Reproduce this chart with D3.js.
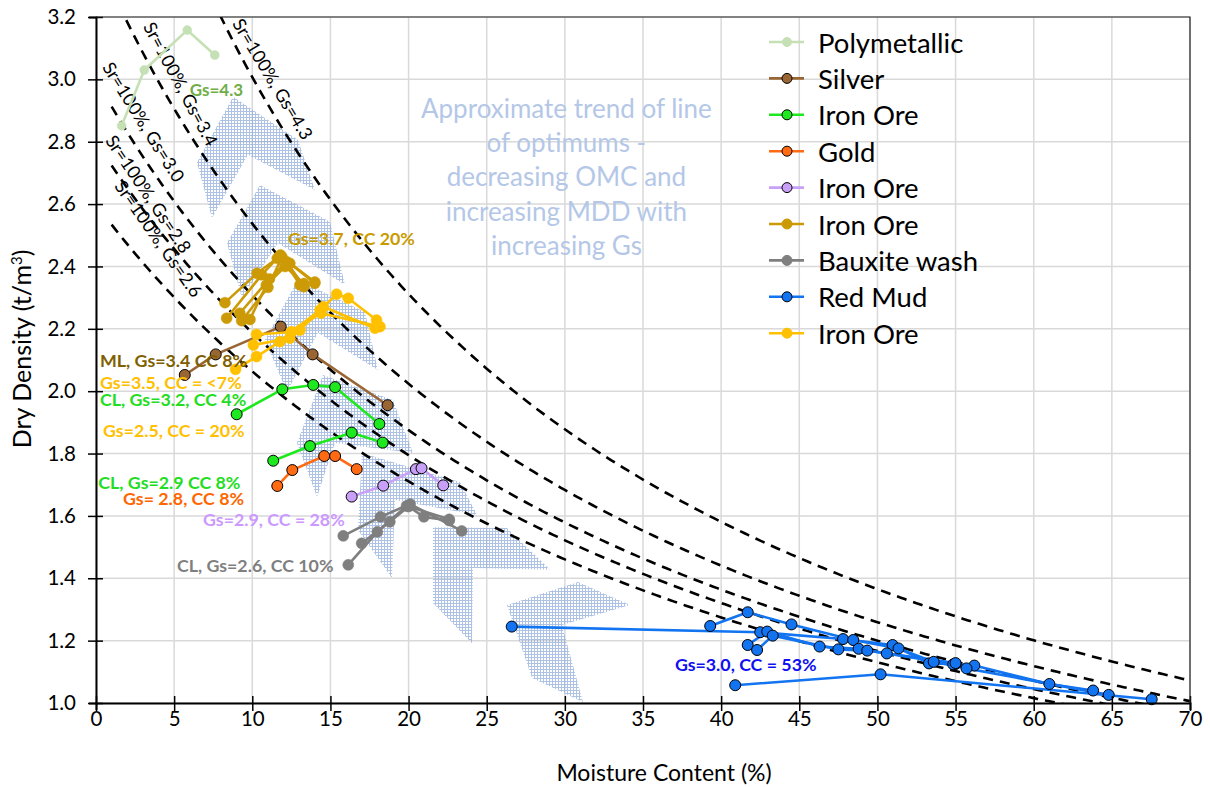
<!DOCTYPE html>
<html><head><meta charset="utf-8">
<script src="https://cdn.jsdelivr.net/npm/d3@7/dist/d3.min.js"></script>
<style>
body{margin:0;background:#fff}
svg{display:block}
text{font-family:Lato, "Open Sans", sans-serif}
</style>
</head><body>
<svg id="chart" width="1210" height="787"></svg>
<script>
// ---------------- DATA ----------------
const xTickValues = [0,5,10,15,20,25,30,35,40,45,50,55,60,65,70];
const yTickValues = [1.0,1.2,1.4,1.6,1.8,2.0,2.2,2.4,2.6,2.8,3.0,3.2];
const gsCurves = [4.3, 3.4, 3.0, 2.8, 2.6];

const polymetallic = [[[1.64,2.851],[3.09,3.030],[5.84,3.158],[7.6,3.078]]];
const silver = [[[5.68,2.052],[7.66,2.118],[11.82,2.207],[13.86,2.118],[18.66,1.955]]];
const ironOreGreen = [
  [[9.0,1.926],[11.92,2.006],[13.9,2.020],[15.3,2.013],[18.13,1.895]],
  [[11.34,1.777],[13.69,1.824],[16.36,1.867],[18.34,1.835]]
];
const gold = [[[11.6,1.696],[12.56,1.747],[14.6,1.792],[15.3,1.792],[16.68,1.750]]];
const ironOrePurple = [[[16.36,1.662],[18.38,1.697],[20.47,1.750],[20.83,1.753],[22.22,1.698]]];
const ironOreGold = [
  [[8.25,2.284],[10.3,2.378],[11.6,2.426],[12.4,2.41],[14.0,2.346]],
  [[8.36,2.234],[10.6,2.373],[11.8,2.437],[13.05,2.341]],
  [[9.2,2.250],[11.1,2.36],[12.2,2.415],[13.3,2.335]],
  [[9.32,2.226],[11.0,2.333],[11.9,2.43],[14.0,2.35]],
  [[9.85,2.230],[10.9,2.34],[12.1,2.40],[13.3,2.345]]
];
const bauxiteWash = [
  [[15.82,1.536],[18.2,1.597],[20.1,1.638],[23.4,1.552]],
  [[16.14,1.443],[18.0,1.549],[19.87,1.632],[22.6,1.589]],
  [[17.0,1.512],[18.8,1.581],[20.0,1.63],[20.98,1.597],[22.6,1.585]]
];
const redMud = [
  [[26.6,1.245],[42.5,1.227],[47.8,1.205],[50.97,1.186],[53.3,1.127],[55.0,1.125],[56.2,1.120],[61.0,1.061],[63.8,1.040]],
  [[39.3,1.247],[41.7,1.291],[44.5,1.252],[48.45,1.202],[51.35,1.175],[53.6,1.132],[55.7,1.111],[64.8,1.026]],
  [[41.7,1.186],[42.95,1.229],[46.3,1.181],[48.8,1.174],[50.6,1.159],[54.85,1.124]],
  [[42.3,1.170],[43.3,1.216],[47.5,1.172],[49.35,1.168],[55.0,1.128]],
  [[40.9,1.057],[50.2,1.092],[67.55,1.012]]
];
const ironOreYellow = [
  [[8.93,2.070],[10.27,2.111],[11.77,2.159],[12.5,2.19],[14.33,2.26],[15.4,2.311],[16.14,2.298],[17.95,2.228]],
  [[10.07,2.148],[12.4,2.170],[13.05,2.196],[14.55,2.271],[17.85,2.202]],
  [[10.27,2.182],[12.5,2.19],[14.4,2.25],[18.17,2.207]]
];

const seriesNames = ["Polymetallic","Silver","Iron Ore","Gold","Iron Ore","Iron Ore","Bauxite wash","Red Mud","Iron Ore"];
const seriesData = [polymetallic, silver, ironOreGreen, gold, ironOrePurple, ironOreGold, bauxiteWash, redMud, ironOreYellow];
const seriesColors = ["#c5e0b4","#996633","#1ee81e","#ff6a13","#c9a0f7","#cc9a06","#7f7f7f","#1274f0","#ffc000"];
const seriesOutline = [false,true,true,true,true,false,false,true,false];

// trend chevrons (annotation shapes, in data units)
const chevrons = [
  [[8.77,2.944],[12.92,2.806],[14.01,2.645],[9.72,2.758],[7.42,2.555],[6.46,2.733]],
  [[10.49,2.661],[14.97,2.543],[15.93,2.341],[11.64,2.475],[9.34,2.299],[8.38,2.475]],
  [[12.92,2.357],[17.21,2.254],[18.04,2.068],[14.20,2.187],[12.22,1.997],[10.81,2.164]],
  [[14.52,2.052],[19.00,1.972],[20.28,1.802],[15.29,1.834],[14.14,1.661],[12.86,1.834]],
  [[17.02,1.802],[23.29,1.709],[24.38,1.603],[19.13,1.651],[18.94,1.401],[16.76,1.555]],
  [[21.56,1.564],[26.30,1.561],[29.05,1.427],[24.12,1.433],[24.06,1.192],[21.56,1.321]],
  [[26.30,1.314],[30.84,1.388],[34.17,1.314],[29.81,1.250],[31.16,1.003],[27.90,1.080]]
];

const curveLabels = [
  {text:"Sr=100%, Gs=4.3", x:11.2, y:2.998, angle:59},
  {text:"Sr=100%, Gs=3.4", x:5.31, y:2.982, angle:62},
  {text:"Sr=100%, Gs=3.0", x:2.94, y:2.860, angle:58},
  {text:"Sr=100%, Gs=2.8", x:3.26, y:2.629, angle:56},
  {text:"Sr=100%, Gs=2.6", x:3.9, y:2.485, angle:55}
];

const dataLabels = [
  {text:"Gs=4.3", x:6.0, y:2.947, color:"#70ad47"},
  {text:"Gs=3.7, CC 20%", x:12.28, y:2.469, color:"#c89b00"},
  {text:"ML, Gs=3.4 CC 8%", x:0.26, y:2.078, color:"#7f6000"},
  {text:"Gs=3.5, CC = <7%", x:0.26, y:2.007, color:"#ffc000"},
  {text:"CL, Gs=3.2, CC 4%", x:0.26, y:1.953, color:"#22dd22"},
  {text:"Gs=2.5, CC = 20%", x:0.45, y:1.853, color:"#ffc000"},
  {text:"CL, Gs=2.9 CC 8%", x:0.15, y:1.686, color:"#22dd22"},
  {text:"Gs= 2.8, CC 8%", x:1.73, y:1.635, color:"#ff6600"},
  {text:"Gs=2.9, CC = 28%", x:6.85, y:1.568, color:"#cc99ff"},
  {text:"CL, Gs=2.6, CC 10%", x:5.18, y:1.420, color:"#7f7f7f"},
  {text:"Gs=3.0, CC = 53%", x:37.04, y:1.103, color:"#1010f0"}
];

const trendLines = ["Approximate trend of line","of optimums -","decreasing OMC and","increasing MDD with","increasing Gs"];

// ---------------- CHART ----------------
const svg = d3.select("#chart");
const x = d3.scaleLinear().domain([0,70]).range([96,1190]);
const y = d3.scaleLinear().domain([1.0,3.2]).range([703,17]);

const defs = svg.append("defs");
const pat = defs.append("pattern").attr("id","hatch").attr("width",3).attr("height",3)
  .attr("patternUnits","userSpaceOnUse");
pat.append("path").attr("d","M0,0.5H3M0.5,0V3").attr("stroke","#8eaadb").attr("stroke-width",1)
  .attr("opacity",0.72);
defs.append("clipPath").attr("id","plotclip").append("rect")
  .attr("x",x(0)).attr("y",y(3.2)).attr("width",x(70)-x(0)).attr("height",y(1.0)-y(3.2));

// gridlines
const grid = svg.append("g").attr("stroke","#d9d9d9").attr("stroke-width",1.5);
grid.selectAll("line.v").data(xTickValues).join("line").attr("class","v")
  .attr("x1",d=>x(d)).attr("x2",d=>x(d)).attr("y1",y(1.0)).attr("y2",y(3.2));
grid.selectAll("line.h").data(yTickValues).join("line").attr("class","h")
  .attr("y1",d=>y(d)).attr("y2",d=>y(d)).attr("x1",x(0)).attr("x2",x(70));

// chevrons
svg.append("g").selectAll("path").data(chevrons).join("path")
  .attr("d", d => "M" + d.map(p=>x(p[0])+","+y(p[1])).join("L") + "Z")
  .attr("fill","url(#hatch)");

// trend text
svg.append("text").attr("text-anchor","middle").attr("fill","#b4c7e7")
  .attr("font-size",26)
  .selectAll("tspan").data(trendLines).join("tspan")
  .attr("x", x(30.1)).attr("y",(d,i)=>118 + i*34.2).text(d=>d);

// Sr=100% curves
const line = d3.line().x(d=>x(d[0])).y(d=>y(d[1]));
const curveG = svg.append("g").attr("clip-path","url(#plotclip)");
gsCurves.forEach(gs => {
  const pts = d3.range(1, 70.01, 0.25).map(w => [w, gs/(1 + gs*w/100)]);
  curveG.append("path").attr("d", line(pts)).attr("fill","none")
    .attr("stroke","#000").attr("stroke-width",2.6).attr("stroke-dasharray","10,7");
});

// curve labels
svg.append("g").selectAll("text").data(curveLabels).join("text")
  .attr("transform", d=>`translate(${x(d.x)},${y(d.y)}) rotate(${d.angle})`)
  .attr("text-anchor","middle").attr("dominant-baseline","middle")
  .attr("font-size",18).attr("fill","#000").text(d=>d.text);

// series
seriesData.forEach((ser, si) => {
  const g = svg.append("g");
  ser.forEach(seg => {
    g.append("path").attr("d", line(seg)).attr("fill","none")
      .attr("stroke", seriesColors[si]).attr("stroke-width", 2.6).attr("stroke-linejoin","round");
  });
  const pts = ser.flat();
  g.selectAll("circle").data(pts).join("circle")
    .attr("cx",d=>x(d[0])).attr("cy",d=>y(d[1]))
    .attr("r", si===0 ? 4.5 : 5.5)
    .attr("fill", seriesColors[si])
    .attr("stroke", seriesOutline[si] ? "#000" : seriesColors[si])
    .attr("stroke-width", seriesOutline[si] ? 1 : 0.5);
});

// data labels
svg.append("g").selectAll("text").data(dataLabels).join("text")
  .attr("x",d=>x(d.x)).attr("y",d=>y(d.y))
  .attr("font-size",(d,i)=> i===0 ? 17 : 17.8).attr("font-weight","bold")
  .attr("fill",d=>d.color).text(d=>d.text);

// axes
const xAxis = d3.axisBottom(x).tickValues(xTickValues).tickFormat(d3.format("d")).tickSize(7);
const gx = svg.append("g").attr("transform",`translate(0,${y(1.0)})`).call(xAxis);
gx.select(".domain").attr("stroke","#000").attr("stroke-width",2);
gx.selectAll(".tick line").attr("y1",-7).attr("y2",8).attr("stroke","#000").attr("stroke-width",1.5);
gx.selectAll(".tick text").attr("y",8).attr("font-size",20.5).attr("fill","#000")
  .attr("font-family","Lato, sans-serif");

const yAxis = d3.axisLeft(y).tickValues(yTickValues).tickFormat(d3.format(".1f")).tickSize(7);
const gy = svg.append("g").attr("transform",`translate(${x(0)},0)`).call(yAxis);
gy.select(".domain").attr("stroke","#000").attr("stroke-width",2);
gy.selectAll(".tick line").attr("x1",-8).attr("x2",7).attr("stroke","#000").attr("stroke-width",1.5);
gy.selectAll(".tick text").attr("x",-20).attr("font-size",20.5).attr("fill","#000")
  .attr("font-family","Lato, sans-serif");

// frame top/right
svg.append("path").attr("d",`M${x(0)},${y(3.2)}H${x(70)}V${y(1.0)}`)
  .attr("fill","none").attr("stroke","#222").attr("stroke-width",1.2);

// axis titles
svg.append("text").attr("x",664).attr("y",781).attr("text-anchor","middle")
  .attr("font-size",23).attr("fill","#000").text("Moisture Content (%)");
const yt = svg.append("text").attr("transform",`translate(31,349) rotate(-90)`)
  .attr("text-anchor","middle").attr("font-size",25).attr("fill","#000");
yt.append("tspan").text("Dry Density (t/m");
yt.append("tspan").attr("font-size",15).attr("dy",-9).text("3");
yt.append("tspan").attr("dy",9).text(")");

// legend
const leg = svg.append("g");
const legY0 = 42, legStep = 36.4;
seriesNames.forEach((name, i) => {
  const gy2 = legY0 + i*legStep;
  leg.append("line").attr("x1",769).attr("x2",804).attr("y1",gy2).attr("y2",gy2)
    .attr("stroke",seriesColors[i]).attr("stroke-width",2.6);
  leg.append("circle").attr("cx",787).attr("cy",gy2).attr("r",i===0?4.5:5)
    .attr("fill",seriesColors[i]).attr("stroke",seriesOutline[i]?"#000":seriesColors[i]).attr("stroke-width",1);
  leg.append("text").attr("x",818).attr("y",gy2).attr("dominant-baseline","central")
    .attr("font-size",27.5).attr("fill","#000").text(name);
});
</script>
</body></html>
